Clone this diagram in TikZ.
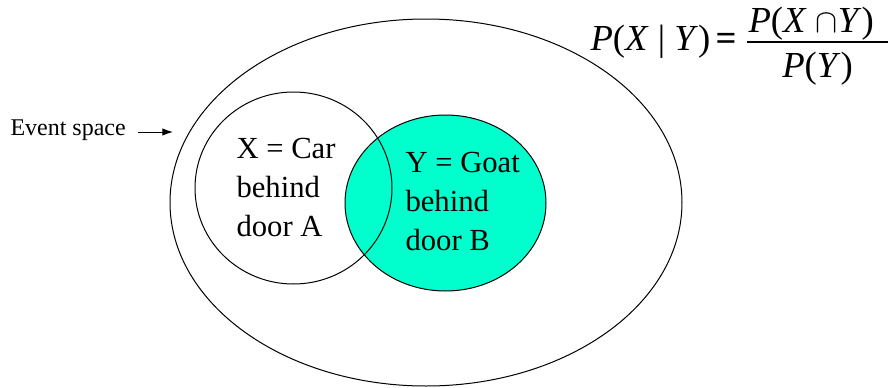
\documentclass[tikz,border=0pt]{standalone}
\usepackage{fontspec}
\setmainfont{Liberation Serif}
\usepackage{xcolor}
\usetikzlibrary{arrows.meta}
\definecolor{goat}{RGB}{0,255,204}

\begin{document}
\begin{tikzpicture}[x=0.75pt, y=0.75pt, line width=0.75pt,
    venntext/.style={align=left, anchor=north west, inner sep=0pt, font=\fontsize{23}{29}\selectfont},
    formel/.style={inner sep=0pt, font=\fontsize{27.5}{33}\selectfont}]
  \useasboundingbox (0,0) rectangle (894,387);
  % Ereignisraum
  \draw (426,184.5) ellipse (256 and 183.5);
  % Y = Ziege hinter Tuer B
  \draw[fill=goat] (445.5,184) ellipse (100.5 and 88);
  % X = Auto hinter Tuer A
  \draw (293.5,199) ellipse (98.5 and 96);
  \node[venntext] (xcar) at (236,249) {X = Car\\behind\\door A};
  \node[venntext] (ygoat) at (405,235) {Y = Goat\\behind\\door B};
  % Beschriftung mit Pfeil
  \node[anchor=base west, inner sep=0pt, font=\fontsize{18}{22}\selectfont] (event) at (10,252) {Event space};
  \coordinate (evend) at (173,255);
  \draw[-{Latex[length=8pt,width=5.5pt]}, shorten <=9pt] ([yshift=2.25pt]event.base east) -- (evend);
  % Formel
  \node[formel, anchor=base west] (cond) at (590,337) {\textit{P}(\textit{X} | \textit{Y})};
  \node[formel, anchor=base] (eq) at (726,337) {\textbf{=}};
  \node[formel, anchor=base west] (num) at (748,355) {\textit{P}(\textit{X} $\cap$\textit{Y})};
  \node[formel, anchor=base] (den) at (817.5,310) {\textit{P}(\textit{Y})};
  \draw[line width=1.2pt] (747,345) -- (888,345);
\end{tikzpicture}
\end{document}
